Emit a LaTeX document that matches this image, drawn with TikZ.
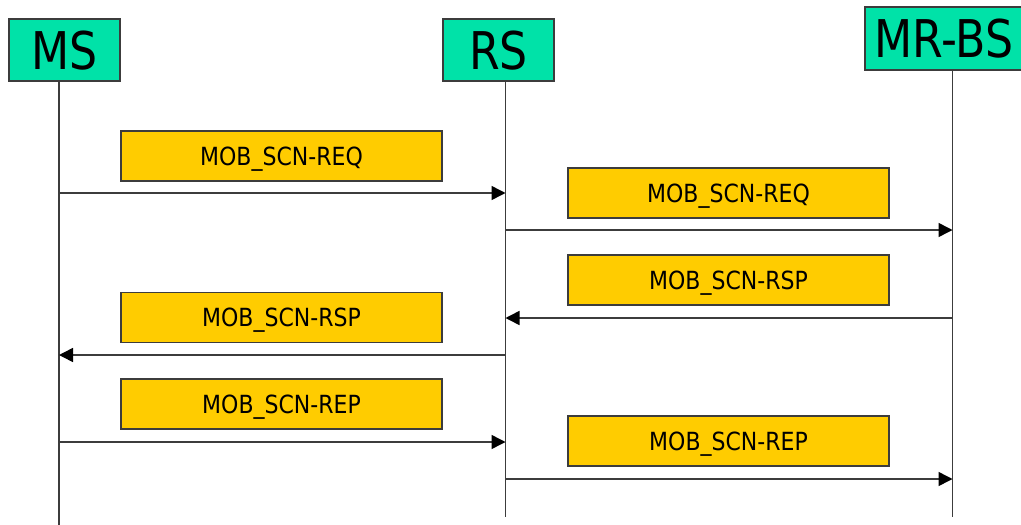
\documentclass[tikz,border=0pt]{standalone}
\usepackage{fontspec}
\setmainfont{DejaVu Sans}[FakeStretch=0.88]
\newfontfamily\hdrfont{DejaVu Sans}[FakeStretch=0.85]
\usetikzlibrary{arrows.meta}
\definecolor{hdr}{RGB}{0,226,168}
\definecolor{msgc}{RGB}{255,204,0}
\definecolor{ln}{RGB}{60,60,60}
\begin{document}
\begin{tikzpicture}[x=1pt,y=-1pt,
  hdrbox/.style={draw=ln, line width=1.2pt, fill=hdr, inner sep=0pt, text height=38pt, text depth=0pt, font=\hdrfont\fontsize{52}{52}\selectfont},
  msgbox/.style={draw=ln, line width=1.2pt, fill=msgc, minimum width=321pt, minimum height=50pt, inner sep=0pt, text height=18pt, text depth=0pt, font=\fontsize{25}{25}\selectfont},
  life/.style={draw=ln, line width=1.3pt},
  msg/.style={draw=ln, line width=1.5pt, -{Triangle[length=14pt,width=14pt,color=black]}}]
\useasboundingbox[fill=white] (0,0) rectangle (1021,525);
% headers
\node[hdrbox, minimum width=111pt, minimum height=62pt] (ms) at (64.5,50) {MS};
\node[hdrbox, minimum width=111pt, minimum height=62pt] (rs) at (498.5,50) {RS};
\node[hdrbox, minimum width=158pt, minimum height=63pt] (bs) at (944,38.5) {MR-BS};
% lifeline ends
\coordinate (msbot) at (59,525);
\coordinate (rsbot) at (505.5,517);
\coordinate (bsbot) at (952.5,517);
\draw[life] (ms.south -| msbot) -- (msbot);
\draw[life] (rs.south -| rsbot) -- (rsbot);
\draw[life] (bs.south -| bsbot) -- (bsbot);
% message boxes
\node[msgbox] (m1) at (281.5,156) {MOB\_SCN-REQ};
\node[msgbox] (m2) at (728.5,193) {MOB\_SCN-REQ};
\node[msgbox] (m3) at (728.5,280) {MOB\_SCN-RSP};
\node[msgbox] (m4) at (281.5,317.5) {MOB\_SCN-RSP};
\node[msgbox] (m5) at (281.5,404) {MOB\_SCN-REP};
\node[msgbox] (m6) at (728.5,441) {MOB\_SCN-REP};
% arrow end points on lifelines
\coordinate (a1s) at (59,193);    \coordinate (a1e) at (505.5,193);
\coordinate (a2s) at (505.5,230); \coordinate (a2e) at (952.5,230);
\coordinate (a3s) at (952.5,318); \coordinate (a3e) at (505.5,318);
\coordinate (a4s) at (505.5,355); \coordinate (a4e) at (59,355);
\coordinate (a5s) at (59,442);    \coordinate (a5e) at (505.5,442);
\coordinate (a6s) at (505.5,479); \coordinate (a6e) at (952.5,479);
\draw[msg] (a1s) -- (a1e);
\draw[msg] (a2s) -- (a2e);
\draw[msg] (a3s) -- (a3e);
\draw[msg] (a4s) -- (a4e);
\draw[msg] (a5s) -- (a5e);
\draw[msg] (a6s) -- (a6e);
\end{tikzpicture}
\end{document}
